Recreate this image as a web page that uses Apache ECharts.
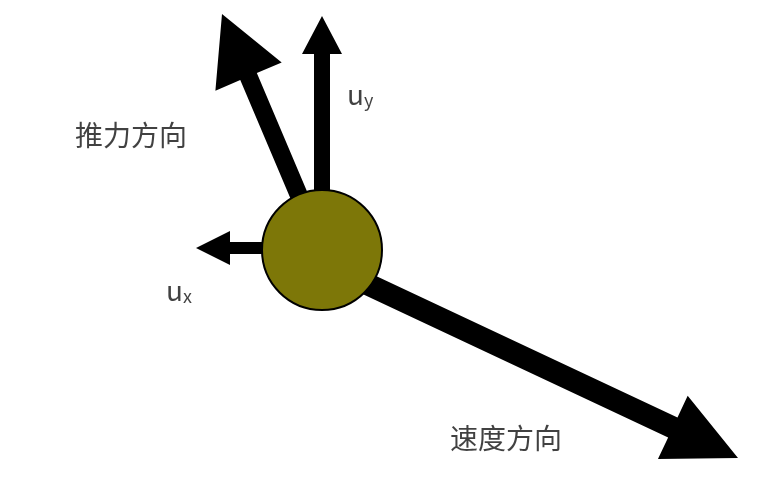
<!DOCTYPE html>
<html>
<head>
<meta charset="utf-8">
<script src="https://cdn.jsdelivr.net/npm/echarts@6/dist/echarts.min.js"></script>
<style>
  html, body { margin: 0; padding: 0; background: #fff; }
  #main { width: 782px; height: 497px; }
</style>
</head>
<body>
<div id="main"></div>
<script>
// arrows: [startX, startY, tipX, tipY, shaftWidth, headWidth, headLength]
var arrows = [
  [303, 205, 222, 14, 18, 72, 68],
  [322, 205, 322, 16, 16, 40, 38],
  [265, 248, 196, 248, 12, 34, 34],
  [365, 283, 738, 458, 22, 70, 72]
];
var ball = [[322, 250]];
var labels = [
  { name: '推力方向', pos: [75, 135], rich: false },
  { name: 'u{s|y}', pos: [347, 94], rich: true },
  { name: 'u{s|x}', pos: [166, 290], rich: true },
  { name: '速度方向', pos: [450, 438], rich: false }
];

var chart = echarts.init(document.getElementById('main'));

function renderArrow(params, api) {
  var p0 = api.coord([api.value(0), api.value(1)]);
  var p1 = api.coord([api.value(2), api.value(3)]);
  var w = api.value(4) / 2, hw = api.value(5) / 2, hl = api.value(6);
  var dx = p1[0] - p0[0], dy = p1[1] - p0[1];
  var len = Math.sqrt(dx * dx + dy * dy);
  var ux = dx / len, uy = dy / len, nx = -uy, ny = ux;
  var bx = p1[0] - ux * hl, by = p1[1] - uy * hl;
  var pts = [
    [p0[0] + nx * w, p0[1] + ny * w],
    [bx + nx * w, by + ny * w],
    [bx + nx * hw, by + ny * hw],
    [p1[0], p1[1]],
    [bx - nx * hw, by - ny * hw],
    [bx - nx * w, by - ny * w],
    [p0[0] - nx * w, p0[1] - ny * w]
  ];
  return { type: 'polygon', shape: { points: pts }, style: { fill: '#000' } };
}

chart.setOption({
  animation: false,
  grid: { left: 0, right: 0, top: 0, bottom: 0 },
  xAxis: { type: 'value', min: 0, max: 782, show: false },
  yAxis: { type: 'value', min: 0, max: 497, inverse: true, show: false },
  series: [
    { type: 'custom', renderItem: renderArrow, data: arrows, z: 1 },
    {
      type: 'scatter', data: ball, symbolSize: 120, z: 3,
      itemStyle: { color: '#7d7708', borderColor: '#000', borderWidth: 2, opacity: 1 }
    },
    {
      type: 'scatter', symbolSize: 0, z: 4,
      data: labels.map(function (l) { return { name: l.name, value: l.pos }; }),
      label: {
        show: true, position: 'right', distance: 0,
        formatter: '{b}', color: '#111',
        fontFamily: 'Noto Sans CJK SC', fontSize: 28,
        rich: { s: { fontSize: 18, fontFamily: 'Noto Sans CJK SC', color: '#111', padding: [12, 0, 0, 0] } }
      }
    }
  ]
});
</script>
</body>
</html>
